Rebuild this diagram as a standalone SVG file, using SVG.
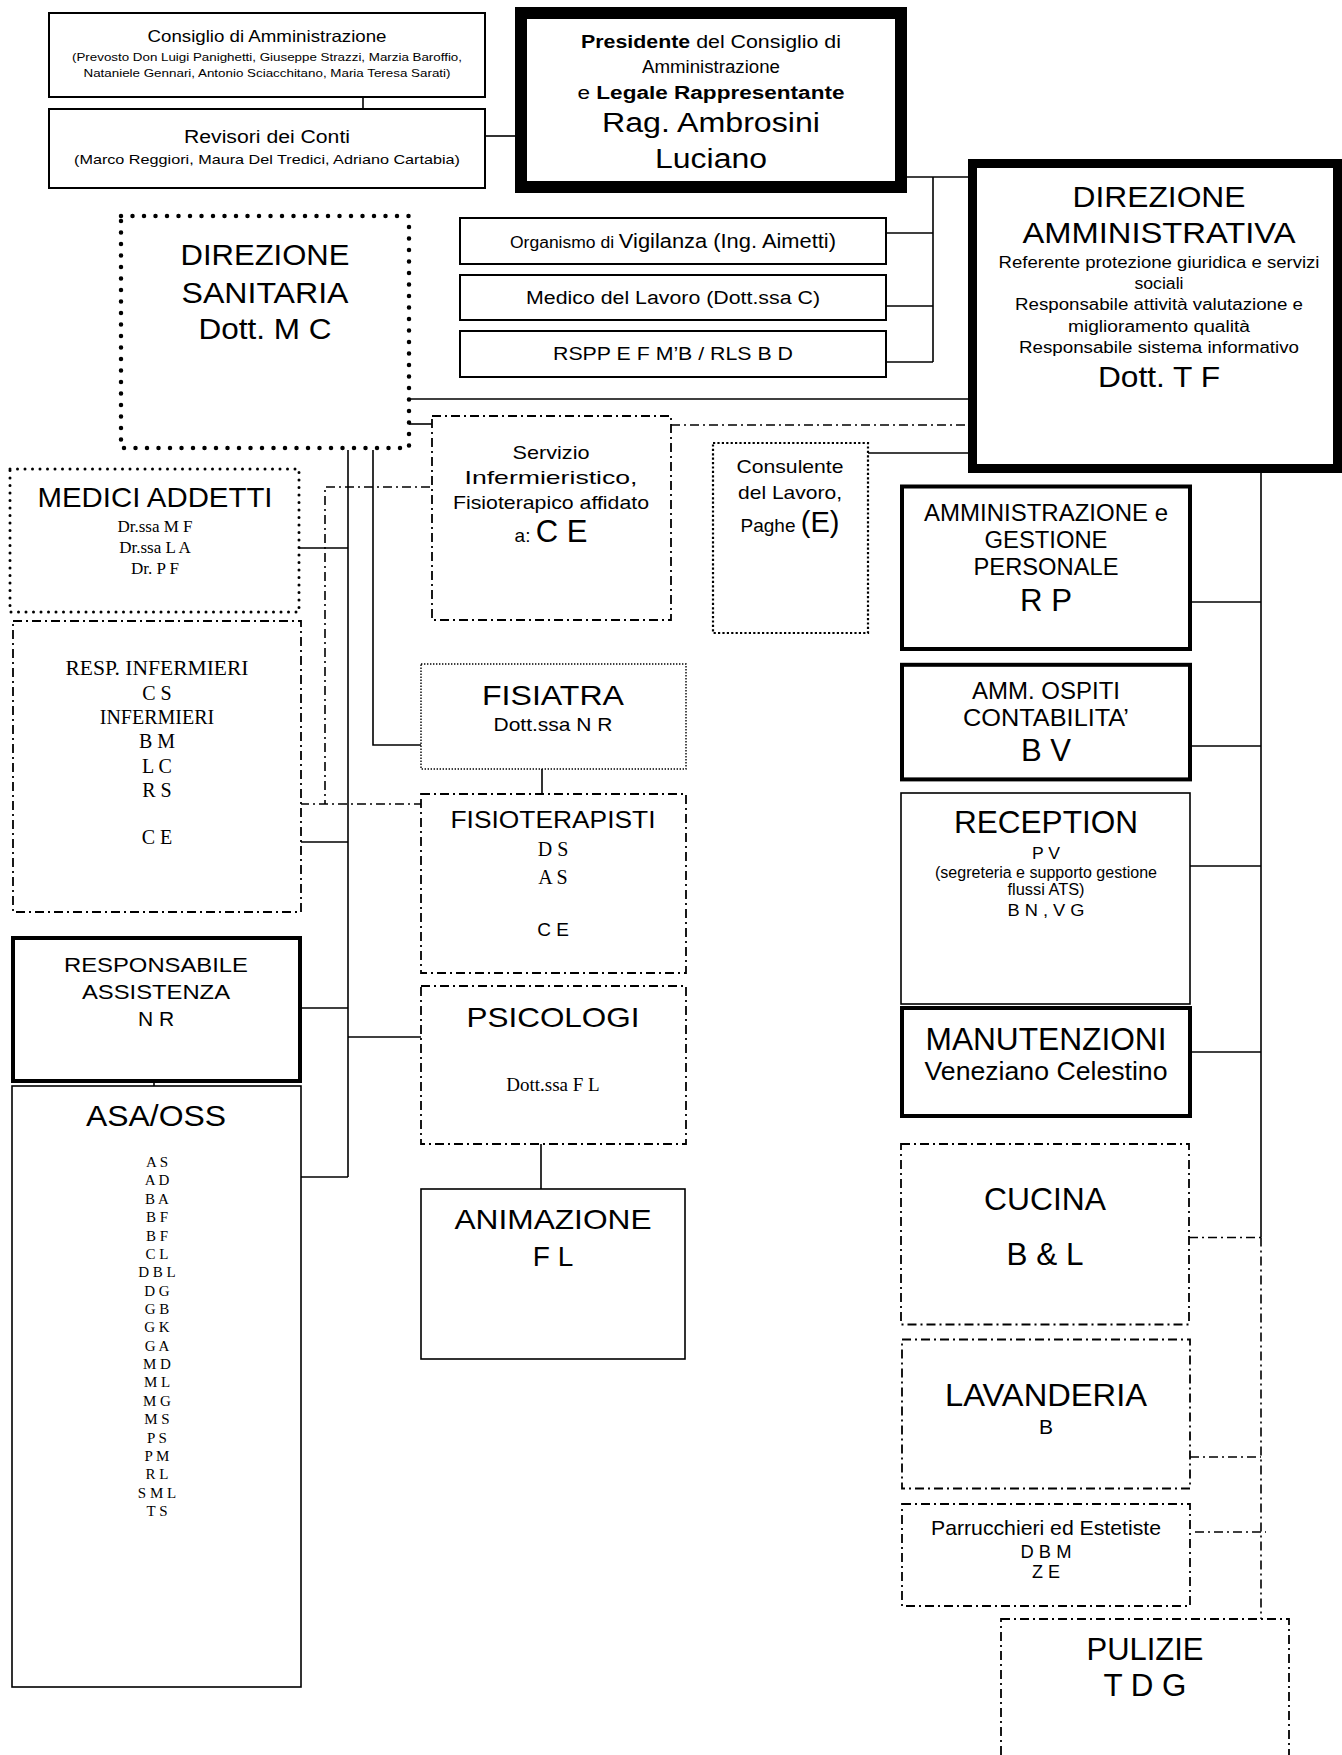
<svg xmlns="http://www.w3.org/2000/svg" width="1342" height="1755" viewBox="0 0 1342 1755">
<style>
text{font-family:"Liberation Sans",Arial,sans-serif;fill:#000;text-anchor:middle}
.r{font-family:"Liberation Serif","Times New Roman",serif}
.b{font-weight:bold}
rect{fill:#fff;stroke:#000}
.thin{stroke-width:1.6}
.med{stroke-width:2}
.thk{stroke-width:4}
.dd{stroke-width:1.8;stroke-dasharray:9 4 2 4}
.dot{stroke-width:4.5;stroke-dasharray:0 11.5;stroke-linecap:round}
.dots{stroke-width:3;stroke-dasharray:0 7.5;stroke-linecap:round}
.fd{stroke-width:1.4;stroke-dasharray:1.4 1.6}
.cd{stroke-width:2.2;stroke-dasharray:2.2 2.2}
#connectors line,#connectors path{stroke:#000;stroke-width:1.6;fill:none}
#connectors .ddl{stroke-dasharray:9 4 2 4}
</style>
<rect x="0" y="0" width="1342" height="1755" style="fill:#fff;stroke:none"/>
<g id="connectors">
<line x1="363" y1="97" x2="363" y2="109"/>
<line x1="485" y1="136" x2="515" y2="136"/>
<line x1="907" y1="177" x2="968" y2="177"/>
<line x1="933" y1="177" x2="933" y2="362"/>
<line x1="886" y1="233" x2="933" y2="233"/>
<line x1="886" y1="306" x2="933" y2="306"/>
<line x1="886" y1="362" x2="933" y2="362"/>
<line x1="409" y1="399" x2="968" y2="399"/>
<line x1="409" y1="424" x2="432" y2="424"/>
<line class="ddl" x1="671" y1="425" x2="968" y2="425"/>
<line x1="868" y1="453" x2="968" y2="453"/>
<path class="ddl" d="M430 487H325V804"/>
<line class="ddl" x1="300" y1="804" x2="421" y2="804"/>
<line x1="348" y1="450" x2="348" y2="1177"/>
<path d="M373 450V745H421"/>
<line x1="299" y1="548" x2="348" y2="548"/>
<line x1="301" y1="842" x2="348" y2="842"/>
<line x1="302" y1="1008" x2="348" y2="1008"/>
<line x1="348" y1="1037" x2="421" y2="1037"/>
<line x1="301" y1="1177" x2="348" y2="1177"/>
<line x1="542" y1="769" x2="542" y2="794"/>
<line x1="541" y1="1144" x2="541" y2="1189"/>
<line x1="154" y1="1070" x2="154" y2="1086"/>
<line x1="1261" y1="473" x2="1261" y2="1237.5"/>
<line x1="1192" y1="602" x2="1261" y2="602"/>
<line x1="1192" y1="746" x2="1261" y2="746"/>
<line x1="1190" y1="866" x2="1261" y2="866"/>
<line x1="1192" y1="1052" x2="1261" y2="1052"/>
<line class="ddl" x1="1189" y1="1237.5" x2="1261" y2="1237.5"/>
<line class="ddl" x1="1190" y1="1457" x2="1261" y2="1457"/>
<line class="ddl" x1="1195" y1="1532" x2="1266" y2="1532"/>
<line class="ddl" x1="1261" y1="1237.5" x2="1261" y2="1619"/>
</g>

<g id="consiglio">
<rect class="med" x="49" y="13" width="436" height="84"/>
<text x="267" y="42" font-size="16.5" textLength="239" lengthAdjust="spacingAndGlyphs">Consiglio di Amministrazione</text>
<text x="267" y="61" font-size="11.5" textLength="390" lengthAdjust="spacingAndGlyphs">(Prevosto Don Luigi Panighetti, Giuseppe Strazzi, Marzia Baroffio,</text>
<text x="267" y="77" font-size="11.5" textLength="367" lengthAdjust="spacingAndGlyphs">Nataniele Gennari, Antonio Sciacchitano, Maria Teresa Sarati)</text>
</g>
<g id="revisori">
<rect class="med" x="49" y="109" width="436" height="79"/>
<text x="267" y="143" font-size="18" textLength="166" lengthAdjust="spacingAndGlyphs">Revisori dei Conti</text>
<text x="267" y="164" font-size="13" textLength="386" lengthAdjust="spacingAndGlyphs">(Marco Reggiori, Maura Del Tredici, Adriano Cartabia)</text>
</g>
<g id="presidente">
<rect x="521" y="13" width="380" height="174" style="stroke-width:12"/>
<text x="711" y="48" font-size="18" textLength="260" lengthAdjust="spacingAndGlyphs"><tspan class="b">Presidente</tspan> del Consiglio di</text>
<text x="711" y="73" font-size="18" textLength="138" lengthAdjust="spacingAndGlyphs">Amministrazione</text>
<text x="711" y="99" font-size="18" textLength="267" lengthAdjust="spacingAndGlyphs">e <tspan class="b">Legale Rappresentante</tspan></text>
<text x="711" y="132" font-size="27" textLength="218" lengthAdjust="spacingAndGlyphs">Rag. Ambrosini</text>
<text x="711" y="168" font-size="27" textLength="112" lengthAdjust="spacingAndGlyphs">Luciano</text>
</g>
<g id="vigilanza">
<rect class="med" x="460" y="218" width="426" height="46"/>
<text x="673" y="248" font-size="20" textLength="326" lengthAdjust="spacingAndGlyphs"><tspan font-size="16">Organismo di </tspan>Vigilanza (Ing. Aimetti)</text>
</g>
<g id="medico">
<rect class="med" x="460" y="275" width="426" height="45"/>
<text x="673" y="304" font-size="18" textLength="294" lengthAdjust="spacingAndGlyphs">Medico del Lavoro (Dott.ssa C)</text>
</g>
<g id="rspp">
<rect class="med" x="460" y="331" width="426" height="46"/>
<text x="673" y="360" font-size="18" textLength="240" lengthAdjust="spacingAndGlyphs">RSPP E F M’B / RLS B D</text>
</g>
<g id="dir-amm">
<rect x="972.5" y="163.5" width="365" height="305" style="stroke-width:9"/>
<text x="1159" y="207" font-size="30" textLength="173" lengthAdjust="spacingAndGlyphs">DIREZIONE</text>
<text x="1159" y="243" font-size="30" textLength="273" lengthAdjust="spacingAndGlyphs">AMMINISTRATIVA</text>
<text x="1159" y="268" font-size="16" textLength="321" lengthAdjust="spacingAndGlyphs">Referente protezione giuridica e servizi</text>
<text x="1159" y="289" font-size="16" textLength="49" lengthAdjust="spacingAndGlyphs">sociali</text>
<text x="1159" y="310" font-size="16" textLength="288" lengthAdjust="spacingAndGlyphs">Responsabile attività valutazione e</text>
<text x="1159" y="332" font-size="16" textLength="182" lengthAdjust="spacingAndGlyphs">miglioramento qualità</text>
<text x="1159" y="353" font-size="16" textLength="280" lengthAdjust="spacingAndGlyphs">Responsabile sistema informativo</text>
<text x="1159" y="387" font-size="30" textLength="122" lengthAdjust="spacingAndGlyphs">Dott. T F</text>
</g>
<g id="dir-san">
<rect class="dot" x="121" y="216" width="288" height="232"/>
<text x="265" y="265" font-size="30" textLength="169" lengthAdjust="spacingAndGlyphs">DIREZIONE</text>
<text x="265" y="303" font-size="30" textLength="167" lengthAdjust="spacingAndGlyphs">SANITARIA</text>
<text x="265" y="339" font-size="30" textLength="133" lengthAdjust="spacingAndGlyphs">Dott. M C</text>
</g>
<g id="servizio">
<rect class="dd" x="432" y="416" width="239" height="204"/>
<text x="551" y="459" font-size="19" textLength="77" lengthAdjust="spacingAndGlyphs">Servizio</text>
<text x="551" y="484" font-size="19" textLength="173" lengthAdjust="spacingAndGlyphs">Infermieristico,</text>
<text x="551" y="509" font-size="19" textLength="196" lengthAdjust="spacingAndGlyphs">Fisioterapico affidato</text>
<text x="551" y="542" font-size="19">a: <tspan font-size="31">C E</tspan></text>
</g>
<g id="consulente">
<rect class="cd" x="713" y="443" width="155" height="190"/>
<text x="790" y="473" font-size="19" textLength="107" lengthAdjust="spacingAndGlyphs">Consulente</text>
<text x="790" y="499" font-size="19" textLength="104" lengthAdjust="spacingAndGlyphs">del Lavoro,</text>
<text x="790" y="532" font-size="19">Paghe <tspan font-size="29">(E)</tspan></text>
</g>
<g id="medici">
<rect class="dots" x="10" y="469" width="289" height="143"/>
<text x="155" y="507" font-size="28" textLength="235" lengthAdjust="spacingAndGlyphs">MEDICI ADDETTI</text>
<text class="r" x="155" y="532" font-size="17">Dr.ssa M F</text>
<text class="r" x="155" y="553" font-size="17">Dr.ssa L A</text>
<text class="r" x="155" y="574" font-size="17">Dr. P F</text>
</g>
<g id="infermieri">
<rect class="dd" x="13" y="621" width="288" height="291"/>
<text class="r" x="157" y="675" font-size="20" textLength="183" lengthAdjust="spacingAndGlyphs">RESP. INFERMIERI</text>
<text class="r" x="157" y="700" font-size="20">C S</text>
<text class="r" x="157" y="724" font-size="20">INFERMIERI</text>
<text class="r" x="157" y="748" font-size="20">B M</text>
<text class="r" x="157" y="773" font-size="20">L C</text>
<text class="r" x="157" y="797" font-size="20">R S</text>
<text class="r" x="157" y="844" font-size="20">C E</text>
</g>
<g id="fisiatra">
<rect class="fd" x="421" y="664" width="265" height="105"/>
<text x="553" y="705" font-size="28" textLength="142" lengthAdjust="spacingAndGlyphs">FISIATRA</text>
<text x="553" y="731" font-size="19" textLength="119" lengthAdjust="spacingAndGlyphs">Dott.ssa N R</text>
</g>
<g id="fisioterapisti">
<rect class="dd" x="421" y="794" width="265" height="179"/>
<text x="553" y="828" font-size="23" textLength="205" lengthAdjust="spacingAndGlyphs">FISIOTERAPISTI</text>
<text class="r" x="553" y="856" font-size="20">D S</text>
<text class="r" x="553" y="884" font-size="20">A S</text>
<text x="553" y="936" font-size="19">C E</text>
</g>
<g id="psicologi">
<rect class="dd" x="421" y="986" width="265" height="158"/>
<text x="553" y="1027" font-size="28" textLength="173" lengthAdjust="spacingAndGlyphs">PSICOLOGI</text>
<text class="r" x="553" y="1091" font-size="19">Dott.ssa F L</text>
</g>
<g id="animazione">
<rect class="thin" x="421" y="1189" width="264" height="170"/>
<text x="553" y="1229" font-size="28" textLength="197" lengthAdjust="spacingAndGlyphs">ANIMAZIONE</text>
<text x="553" y="1266" font-size="28">F L</text>
</g>
<g id="resp-assistenza">
<rect class="thk" x="13" y="938" width="287" height="143"/>
<text x="156" y="972" font-size="21" textLength="184" lengthAdjust="spacingAndGlyphs">RESPONSABILE</text>
<text x="156" y="999" font-size="21" textLength="148" lengthAdjust="spacingAndGlyphs">ASSISTENZA</text>
<text x="156" y="1026" font-size="21">N R</text>
</g>
<g id="asa-oss">
<rect class="thin" x="12" y="1086" width="289" height="601"/>
<text x="156" y="1126" font-size="29" textLength="140" lengthAdjust="spacingAndGlyphs">ASA/OSS</text>
<g font-size="15">
<text class="r" x="157" y="1167">A S</text>
<text class="r" x="157" y="1185.4">A D</text>
<text class="r" x="157" y="1203.7">B A</text>
<text class="r" x="157" y="1222.1">B F</text>
<text class="r" x="157" y="1240.5">B F</text>
<text class="r" x="157" y="1258.8">C L</text>
<text class="r" x="157" y="1277.2">D B L</text>
<text class="r" x="157" y="1295.6">D G</text>
<text class="r" x="157" y="1314">G B</text>
<text class="r" x="157" y="1332.3">G K</text>
<text class="r" x="157" y="1350.7">G A</text>
<text class="r" x="157" y="1369.1">M D</text>
<text class="r" x="157" y="1387.4">M L</text>
<text class="r" x="157" y="1405.8">M G</text>
<text class="r" x="157" y="1424.2">M S</text>
<text class="r" x="157" y="1442.6">P S</text>
<text class="r" x="157" y="1460.9">P M</text>
<text class="r" x="157" y="1479.3">R L</text>
<text class="r" x="157" y="1497.7">S M L</text>
<text class="r" x="157" y="1516">T S</text>
</g>
</g>
<g id="amministrazione">
<rect class="thk" x="902" y="486.5" width="288" height="162.5"/>
<text x="1046" y="520.5" font-size="23" textLength="244" lengthAdjust="spacingAndGlyphs">AMMINISTRAZIONE e</text>
<text x="1046" y="548" font-size="23" textLength="123" lengthAdjust="spacingAndGlyphs">GESTIONE</text>
<text x="1046" y="575" font-size="23" textLength="145" lengthAdjust="spacingAndGlyphs">PERSONALE</text>
<text x="1046" y="611" font-size="31" textLength="52" lengthAdjust="spacingAndGlyphs">R P</text>
</g>
<g id="amm-ospiti">
<rect class="thk" x="902" y="664.8" width="288" height="114.6"/>
<text x="1046" y="699" font-size="23" textLength="148" lengthAdjust="spacingAndGlyphs">AMM. OSPITI</text>
<text x="1046" y="726" font-size="23" textLength="166" lengthAdjust="spacingAndGlyphs">CONTABILITA’</text>
<text x="1046" y="760.5" font-size="31" textLength="50" lengthAdjust="spacingAndGlyphs">B V</text>
</g>
<g id="reception">
<rect class="thin" x="901" y="793" width="289" height="211"/>
<text x="1046" y="833" font-size="31" textLength="184" lengthAdjust="spacingAndGlyphs">RECEPTION</text>
<text x="1046" y="859" font-size="16" textLength="28" lengthAdjust="spacingAndGlyphs">P V</text>
<text x="1046" y="877.5" font-size="16" textLength="222" lengthAdjust="spacingAndGlyphs">(segreteria e supporto gestione</text>
<text x="1046" y="895" font-size="16" textLength="77" lengthAdjust="spacingAndGlyphs">flussi ATS)</text>
<text x="1046" y="916" font-size="16" textLength="77" lengthAdjust="spacingAndGlyphs">B N , V G</text>
</g>
<g id="manutenzioni">
<rect class="thk" x="902" y="1008" width="288" height="108"/>
<text x="1046" y="1050" font-size="31" textLength="241" lengthAdjust="spacingAndGlyphs">MANUTENZIONI</text>
<text x="1046" y="1080" font-size="26.5" textLength="243" lengthAdjust="spacingAndGlyphs">Veneziano Celestino</text>
</g>
<g id="cucina">
<rect class="dd" x="901" y="1144" width="288" height="180.5"/>
<text x="1045" y="1210" font-size="31.5" textLength="122" lengthAdjust="spacingAndGlyphs">CUCINA</text>
<text x="1045" y="1265" font-size="31.5" textLength="77" lengthAdjust="spacingAndGlyphs">B &amp; L</text>
</g>
<g id="lavanderia">
<rect class="dd" x="902" y="1339.5" width="288" height="149"/>
<text x="1046" y="1405.5" font-size="31.5" textLength="202" lengthAdjust="spacingAndGlyphs">LAVANDERIA</text>
<text x="1046" y="1434" font-size="21">B</text>
</g>
<g id="parrucchieri">
<rect class="dd" x="902" y="1504" width="288" height="102"/>
<text x="1046" y="1535" font-size="21" textLength="230" lengthAdjust="spacingAndGlyphs">Parrucchieri ed Estetiste</text>
<text x="1046" y="1557.5" font-size="18" textLength="51" lengthAdjust="spacingAndGlyphs">D B M</text>
<text x="1046" y="1578" font-size="18" textLength="28" lengthAdjust="spacingAndGlyphs">Z E</text>
</g>
<g id="pulizie">
<rect class="dd" x="1001" y="1619" width="288" height="160"/>
<text x="1145" y="1660" font-size="31" textLength="117" lengthAdjust="spacingAndGlyphs">PULIZIE</text>
<text x="1145" y="1696" font-size="31" textLength="83" lengthAdjust="spacingAndGlyphs">T D G</text>
</g>
</svg>
